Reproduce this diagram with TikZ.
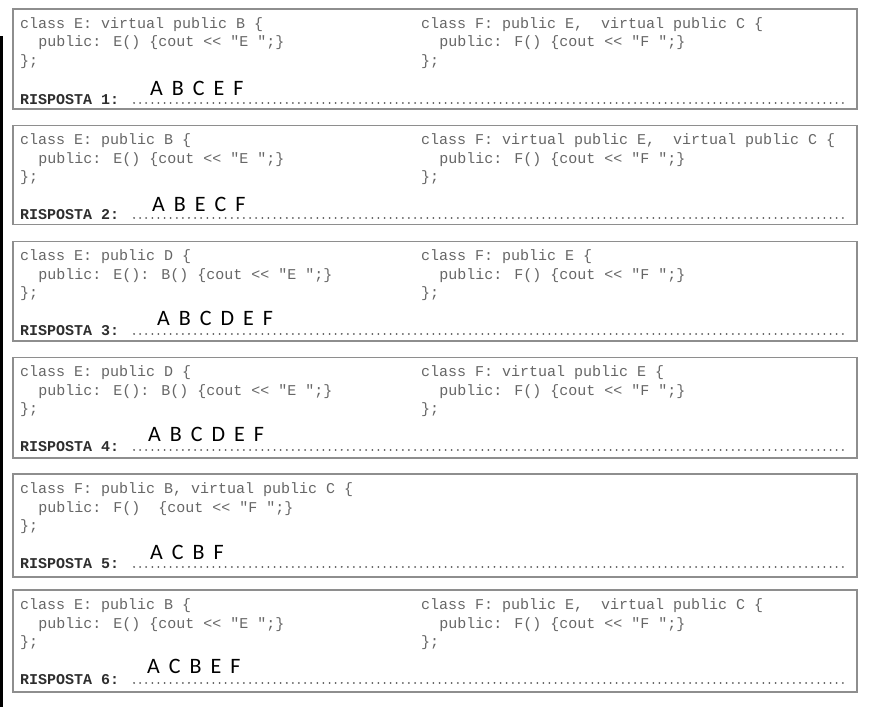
\documentclass[tikz,border=0pt]{standalone}
\usepackage{fontspec}
\newfontfamily\codefont{Liberation Mono}
\newfontfamily\ansfont{Carlito}
\definecolor{codegray}{HTML}{666666}
\definecolor{boxgray}{HTML}{8E8E8E}
\definecolor{dotgray}{HTML}{5A5A5A}
\definecolor{rispgray}{HTML}{2E2E2E}
\tikzset{
  code/.style={anchor=base west, inner sep=0pt, text=codegray, font=\codefont\fontsize{15}{15}\selectfont},
  risp/.style={anchor=base west, inner sep=0pt, text=rispgray, font=\codefont\bfseries\fontsize{15}{15}\selectfont},
  ans/.style={anchor=base west, inner sep=0pt, text=black, font=\ansfont\fontsize{22}{22}\selectfont, execute at begin node={\spaceskip=9pt\relax}},
  qframe/.style={draw=boxgray, line width=1.3pt},
  dotline/.style={draw=dotgray, line width=2pt, line cap=round, dash pattern=on 0.01pt off 6.1pt},
}
\begin{document}
\begin{tikzpicture}[x=1pt,y=-1pt]
\useasboundingbox (0,0) rectangle (876,715);
\fill[black] (0,36) rectangle (3,707);

% ---------- Box 1 ----------
\def\T{9}
\draw[qframe] (13,\T) rectangle (857,\T+100);
\node[code] (l1a) at (20,\T+19) {class E: virtual public B \{};
\node[code] (l1b) at (38.1,\T+37.5) {public: E() \{cout << "E ";\}};
\node[code] (l1c) at (20,\T+56) {\};};
\node[code] (r1a) at (421,\T+19) {class F: public E,~~virtual public C \{};
\node[code] (r1b) at (439.1,\T+37.5) {public: F() \{cout << "F ";\}};
\node[code] (r1c) at (421,\T+56) {\};};
\node[risp] (q1) at (20,\T+95) {RISPOSTA 1:};
\coordinate (d1s) at (134,\T+94);
\coordinate (d1e) at (847,\T+94);
\draw[dotline] (d1s) -- (d1e);
\node[ans] (a1) at (150,\T+86) {A B C E F};

% ---------- Box 2 ----------
\def\T{125.5}
\draw[qframe] (13,\T) rectangle (857,\T+99);
\node[code] (l2a) at (20,\T+19) {class E: public B \{};
\node[code] (l2b) at (38.1,\T+37.5) {public: E() \{cout << "E ";\}};
\node[code] (l2c) at (20,\T+56) {\};};
\node[code] (r2a) at (421,\T+19) {class F: virtual public E,~~virtual public C \{};
\node[code] (r2b) at (439.1,\T+37.5) {public: F() \{cout << "F ";\}};
\node[code] (r2c) at (421,\T+56) {\};};
\node[risp] (q2) at (20,\T+93.5) {RISPOSTA 2:};
\coordinate (d2s) at (134,\T+92.5);
\coordinate (d2e) at (847,\T+92.5);
\draw[dotline] (d2s) -- (d2e);
\node[ans] (a2) at (152,\T+85.5) {A B E C F};

% ---------- Box 3 ----------
\def\T{241.5}
\draw[qframe] (13,\T) rectangle (857,\T+99.5);
\node[code] (l3a) at (20,\T+19) {class E: public D \{};
\node[code] (l3b) at (38.1,\T+37.5) {public: E(): B() \{cout << "E ";\}};
\node[code] (l3c) at (20,\T+56) {\};};
\node[code] (r3a) at (421,\T+19) {class F: public E \{};
\node[code] (r3b) at (439.1,\T+37.5) {public: F() \{cout << "F ";\}};
\node[code] (r3c) at (421,\T+56) {\};};
\node[risp] (q3) at (20,\T+93.5) {RISPOSTA 3:};
\coordinate (d3s) at (134,\T+92.5);
\coordinate (d3e) at (847,\T+92.5);
\draw[dotline] (d3s) -- (d3e);
\node[ans] (a3) at (157,\T+83.5) {A B C D E F};

% ---------- Box 4 ----------
\def\T{357.5}
\draw[qframe] (13,\T) rectangle (857,\T+100.5);
\node[code] (l4a) at (20,\T+19) {class E: public D \{};
\node[code] (l4b) at (38.1,\T+37.5) {public: E(): B() \{cout << "E ";\}};
\node[code] (l4c) at (20,\T+56) {\};};
\node[code] (r4a) at (421,\T+19) {class F: virtual public E \{};
\node[code] (r4b) at (439.1,\T+37.5) {public: F() \{cout << "F ";\}};
\node[code] (r4c) at (421,\T+56) {\};};
\node[risp] (q4) at (20,\T+93.5) {RISPOSTA 4:};
\coordinate (d4s) at (134,\T+92.5);
\coordinate (d4e) at (847,\T+92.5);
\draw[dotline] (d4s) -- (d4e);
\node[ans] (a4) at (148,\T+83.5) {A B C D E F};

% ---------- Box 5 ----------
\def\T{474}
\draw[qframe] (13,\T) rectangle (857,\T+103);
\node[code] (l5a) at (20,\T+19.5) {class F: public B, virtual public C \{};
\node[code] (l5b) at (38.1,\T+38) {public: F()~~\{cout << "F ";\}};
\node[code] (l5c) at (20,\T+56.5) {\};};
\node[risp] (q5) at (20,\T+94) {RISPOSTA 5:};
\coordinate (d5s) at (134,\T+93);
\coordinate (d5e) at (847,\T+93);
\draw[dotline] (d5s) -- (d5e);
\node[ans] (a5) at (150,\T+85) {A C B F};

% ---------- Box 6 ----------
\def\T{590}
\draw[qframe] (13,\T) rectangle (857,\T+102);
\node[code] (l6a) at (20,\T+19.5) {class E: public B \{};
\node[code] (l6b) at (38.1,\T+38) {public: E() \{cout << "E ";\}};
\node[code] (l6c) at (20,\T+56.5) {\};};
\node[code] (r6a) at (421,\T+19.5) {class F: public E,~~virtual public C \{};
\node[code] (r6b) at (439.1,\T+38) {public: F() \{cout << "F ";\}};
\node[code] (r6c) at (421,\T+56.5) {\};};
\node[risp] (q6) at (20,\T+94) {RISPOSTA 6:};
\coordinate (d6s) at (134,\T+93);
\coordinate (d6e) at (847,\T+93);
\draw[dotline] (d6s) -- (d6e);
\node[ans] (a6) at (147,\T+83) {A C B E F};
\end{tikzpicture}
\end{document}
